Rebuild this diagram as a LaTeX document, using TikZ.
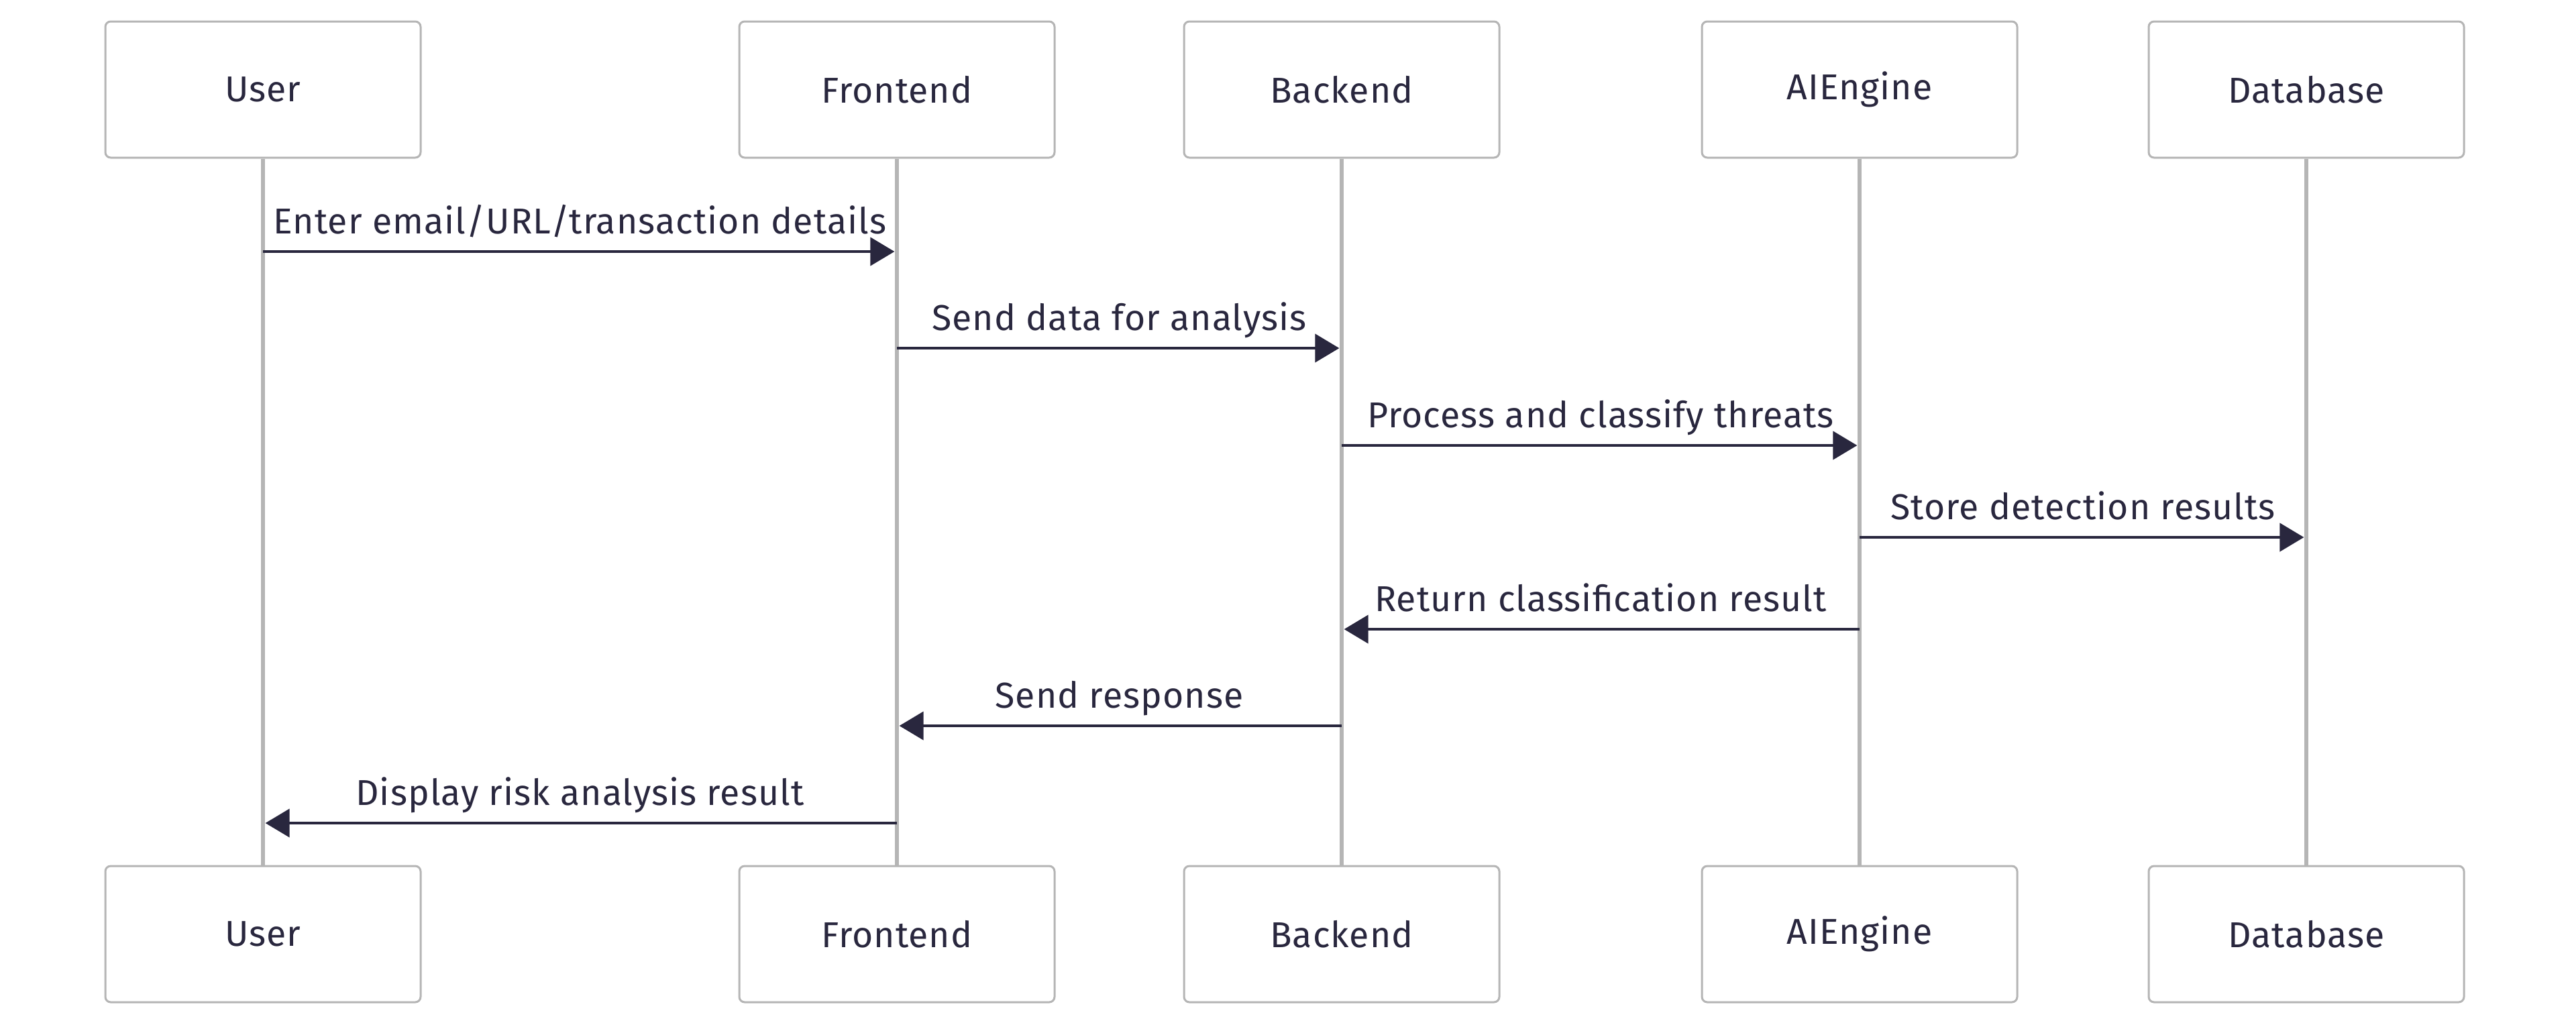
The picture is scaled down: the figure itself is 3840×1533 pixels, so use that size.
\documentclass[tikz,border=0pt]{standalone}
\usepackage{fontspec}
\setmainfont[LetterSpace=2]{Fira Sans}
\usetikzlibrary{arrows.meta}

\definecolor{ink}{HTML}{29273E}
\definecolor{lifegray}{HTML}{B5B5B5}
\newcommand{\seqfont}{\fontsize{13.4pt}{16pt}\selectfont}

\begin{document}
\begin{tikzpicture}[
        x=0.25pt,y=-0.25pt,
        actor/.style={draw=lifegray,line width=0.75pt,rounded corners=2pt,fill=white,
            minimum width=117.5pt,minimum height=50.75pt,text=ink,font=\seqfont},
        lifeline/.style={draw=lifegray,line width=1.5pt},
        msg/.style={draw=ink,line width=1pt,-{Triangle[length=9pt,width=10.5pt]},shorten >=0.9pt},
        lbl/.style={anchor=base,yshift=6.75pt,text=ink,font=\seqfont,inner sep=0pt}
    ]
        \useasboundingbox (0,0) rectangle (3840,1533);

        % participants
        \node [actor] (userTop) at (392,133.5) {User};
        \node [actor] (frontTop) at (1337,133.5) {Frontend};
        \node [actor] (backTop) at (2000,133.5) {Backend};
        \node [actor] (aiTop) at (2772,133.5) {AIEngine};
        \node [actor] (dbTop) at (3438,133.5) {Database};

        \node [actor] (userBot) at (392,1392.5) {User};
        \node [actor] (frontBot) at (1337,1392.5) {Frontend};
        \node [actor] (backBot) at (2000,1392.5) {Backend};
        \node [actor] (aiBot) at (2772,1392.5) {AIEngine};
        \node [actor] (dbBot) at (3438,1392.5) {Database};

        \draw [lifeline] (userTop) -- (userBot);
        \draw [lifeline] (frontTop) -- (frontBot);
        \draw [lifeline] (backTop) -- (backBot);
        \draw [lifeline] (aiTop) -- (aiBot);
        \draw [lifeline] (dbTop) -- (dbBot);

        % messages
        \draw [msg] (userTop |- 0,375) -- node[lbl]{Enter email/URL/transaction details} (frontTop |- 0,375);
        \draw [msg] (frontTop |- 0,519) -- node[lbl]{Send data for analysis} (backTop |- 0,519);
        \draw [msg] (backTop |- 0,664) -- node[lbl]{Process and classify threats} (aiTop |- 0,664);
        \draw [msg] (aiTop |- 0,801) -- node[lbl]{Store detection results} (dbTop |- 0,801);
        \draw [msg] (aiTop |- 0,938) -- node[lbl]{Return classification result} (backTop |- 0,938);
        \draw [msg] (backTop |- 0,1082) -- node[lbl]{Send response} (frontTop |- 0,1082);
        \draw [msg] (frontTop |- 0,1227) -- node[lbl]{Display risk analysis result} (userTop |- 0,1227);
    \end{tikzpicture}
\end{document}
